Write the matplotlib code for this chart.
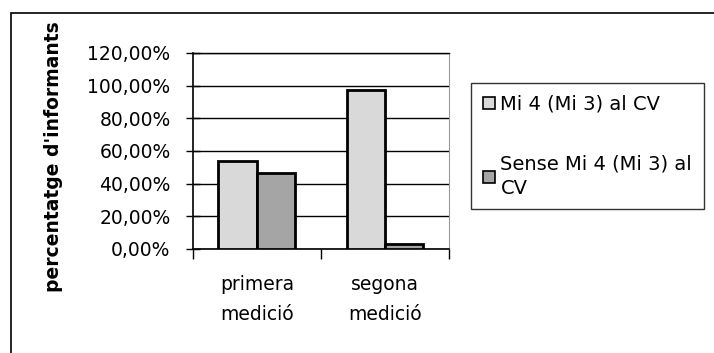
import matplotlib
matplotlib.use('Agg')
import matplotlib.pyplot as plt
from matplotlib.patches import Rectangle, Patch
import numpy as np

plt.rcParams['font.family'] = ['DejaVu Sans']

# data
categories = ['primera\nmedició', 'segona\nmedició']
mi4 = [53.8, 97.3]
sense_mi4 = [46.2, 2.7]
series_labels = ['Mi 4 (Mi 3) al CV', 'Sense Mi 4 (Mi 3) al\nCV']
yticks = [0, 20, 40, 60, 80, 100, 120]
ytick_labels = ['0,00%', '20,00%', '40,00%', '60,00%', '80,00%', '100,00%', '120,00%']

fig = plt.figure(figsize=(7.14, 3.53), dpi=100)
ax = fig.add_axes([0.270, 0.295, 0.359, 0.555])

x = np.arange(len(categories))
w = 0.3
c1 = '#d9d9d9'
c2 = '#a5a5a5'
ax.bar(x - w/2, mi4, w, color=c1, edgecolor='black', linewidth=2, zorder=3)
ax.bar(x + w/2, sense_mi4, w, color=c2, edgecolor='black', linewidth=2, zorder=3)

ax.set_xlim(-0.5, 1.5)
ax.set_ylim(0, 120)
ax.set_yticks(yticks)
ax.set_yticklabels(ytick_labels, fontsize=13.5)
ax.yaxis.grid(True, color='black', linewidth=1, zorder=0)
ax.set_axisbelow(True)
ax.tick_params(axis='y', direction='inout', length=10, width=1, pad=11)

# category labels between boundary ticks
ax.set_xticks([-0.5, 0.5, 1.5])
ax.set_xticklabels([])
ax.tick_params(axis='x', direction='out', length=7, width=1)
ax.set_xticks(x, minor=True)
ax.set_xticklabels(categories, minor=True, fontsize=13.5, linespacing=1.7)
ax.tick_params(axis='x', which='minor', length=0, pad=19)

ax.spines['top'].set_linewidth(1)
ax.spines['right'].set_color('#999999')
ax.spines['right'].set_linewidth(0.8)
ax.spines['right'].set_linestyle((0, (2, 1)))
ax.spines['left'].set_linewidth(1.2)
ax.spines['bottom'].set_linewidth(1.2)

fig.text(0.075, 0.557, "percentatge d'informants", rotation=90, fontsize=13.5,
         fontweight='bold', ha='center', va='center')

handles = [Patch(facecolor=c1, edgecolor='black', linewidth=1.2),
           Patch(facecolor=c2, edgecolor='black', linewidth=1.2)]
leg = fig.legend(handles, series_labels, loc='upper left',
                 bbox_to_anchor=(0.660, 0.765), fontsize=14, frameon=True,
                 fancybox=False, edgecolor='black', handlelength=0.6,
                 handleheight=0.6, handletextpad=0.3, labelspacing=2.1,
                 borderpad=0.6, borderaxespad=0)
leg.get_frame().set_linewidth(1)
for t in leg.get_texts():
    t.set_linespacing(1.35)

# outer chart border
fig.patches.append(Rectangle((11/714, -0.1), 1.2, 1 - 13/353 + 0.1,
                             transform=fig.transFigure, fill=False,
                             edgecolor='black', linewidth=1.2))

fig.savefig('out.png', dpi=100)
